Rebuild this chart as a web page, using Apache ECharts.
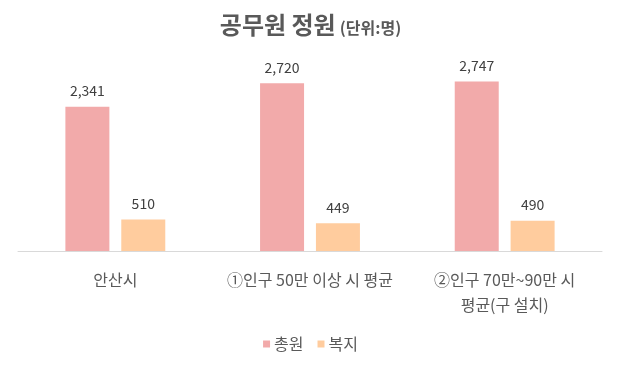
<!DOCTYPE html>
<html>
<head>
<meta charset="utf-8">
<script src="https://cdn.jsdelivr.net/npm/echarts@6/dist/echarts.min.js"></script>
<style>html,body{margin:0;padding:0;background:#fff;}#c{width:621px;height:365px;}</style>
</head>
<body>
<div id="c"></div>
<script>
const categories = ['안산시', '①인구 50만 이상 시 평균', '②인구 70만~90만 시\n평균(구 설치)'];
const seriesNames = ['총원', '복지'];
const totalValues = [2341, 2720, 2747];
const welfareValues = [510, 449, 490];

const font = '"Noto Sans CJK KR", "Noto Sans", sans-serif';
const chart = echarts.init(document.getElementById('c'), null, {renderer: 'canvas'});
chart.setOption({
  backgroundColor: '#fff',
  animation: false,
  textStyle: {fontFamily: font},
  title: {
    text: '{a|공무원 정원} {b|(단위:명)}',
    left: 'center',
    top: 8,
    textStyle: {
      rich: {
        a: {fontSize: 24, fontWeight: 'bold', color: '#595959', fontFamily: font},
        b: {fontSize: 16, fontWeight: 'bold', color: '#595959', fontFamily: font, padding: [5, 0, 0, 0]}
      }
    }
  },
  legend: {
    data: seriesNames,
    top: 331,
    left: 'center',
    itemWidth: 7,
    itemHeight: 7,
    itemGap: 14,
    icon: 'rect',
    textStyle: {fontSize: 16, color: '#595959', fontFamily: font, padding: [0, 0, 0, -1]}
  },
  grid: {left: 18, right: 19, top: 66, bottom: 114, containLabel: false},
  xAxis: {
    type: 'category',
    data: categories,
    axisLine: {lineStyle: {color: '#D9D9D9'}},
    axisTick: {show: false},
    axisLabel: {fontSize: 16, color: '#595959', margin: 16, lineHeight: 25, interval: 0, fontFamily: font}
  },
  yAxis: {
    type: 'value',
    min: 0,
    max: 3000,
    show: false
  },
  series: [
    {
      name: seriesNames[0],
      type: 'bar',
      data: totalValues,
      barWidth: 44,
      barGap: '27%',
      itemStyle: {color: '#F2AAAA'},
      label: {show: true, position: 'top', distance: 9, fontSize: 14, color: '#404040', fontFamily: font,
        formatter: p => p.value.toLocaleString('en-US')}
    },
    {
      name: seriesNames[1],
      type: 'bar',
      data: welfareValues,
      barWidth: 44,
      itemStyle: {color: '#FFCC9E'},
      label: {show: true, position: 'top', distance: 9, fontSize: 14, color: '#404040', fontFamily: font,
        formatter: p => p.value.toLocaleString('en-US')}
    }
  ]
});
</script>
</body>
</html>
